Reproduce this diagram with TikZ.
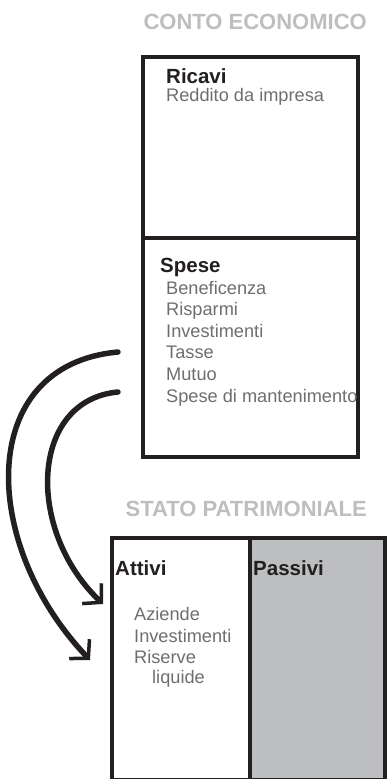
\documentclass[tikz,border=0pt]{standalone}
\usepackage{fontspec}
\setmainfont{Liberation Sans}
\usetikzlibrary{arrows.meta}
\definecolor{inkblack}{HTML}{231F20}
\definecolor{panelgray}{HTML}{BCBEC0}
\definecolor{itemgray}{HTML}{6D6E71}
\begin{document}
\begin{tikzpicture}
[x=1pt,y=-1pt,
box/.style={draw=inkblack,line width=3.5pt,inner sep=0pt,outer sep=0pt,anchor=north west},
title/.style={anchor=base east,inner sep=0pt,text=panelgray,font=\fontsize{22}{26}\selectfont\bfseries},
head/.style={anchor=base west,inner sep=0pt,text=inkblack,font=\fontsize{20.5}{24}\selectfont\bfseries},
item/.style={anchor=base west,inner sep=0pt,text=itemgray,font=\fontsize{18.2}{22}\selectfont},
hand/.style={draw=inkblack,line width=5.5pt,line cap=round,-{Straight Barb[length=13pt,width=28pt,line width=3.5pt]}}]
\useasboundingbox (0,0) rectangle (387,779);
%conto economico
\node[title] (ce) at (367,29) {CONTO ECONOMICO};
\node[box,minimum width=215pt,minimum height=181pt] (ricavi) at (143,57) {};
\node[box,minimum width=215pt,minimum height=219pt] (spese) at (ricavi.south west) {};
\node[head] (ric) at (166,83) {Ricavi};
\node[item] (red) at (166,101) {Reddito da impresa};
\node[head] (sp) at (160,272) {Spese};
\foreach \t [count=\i] in {Beneficenza,Risparmi,Investimenti,Tasse,Mutuo,Spese di mantenimento}
{
	\node[item] (s\i) at (166,{294+21.6*(\i-1)}) {\t};
}
%stato patrimoniale
\node[title] (sp) at (367,516) {STATO PATRIMONIALE};
\node[box,fill=panelgray,minimum width=135pt,minimum height=242pt] (passivi) at (250,538) {};
\node[box,minimum width=138pt,minimum height=242pt] (attivi) at (112,538) {};
\node[head] (att) at (115,575) {Attivi};
\node[head] (pas) at (253,575) {Passivi};
\foreach \t / \x / \y [count=\i] in {Aziende/134/620,Investimenti/134/642,Riserve/134/663,liquide/152/683}
{
	\node[item] (a\i) at (\x,\y) {\t};
}
%frecce
\coordinate (out1) at (118,352);
\coordinate (in1) at (90,660);
\coordinate (out2) at (118,392);
\coordinate (in2) at (103,604);
\draw[hand] (out1) .. controls (-25,365) and (-20,545) .. (in1);
\draw[hand] (out2) .. controls (30,400) and (25,530) .. (in2);
\end{tikzpicture}
\end{document}
